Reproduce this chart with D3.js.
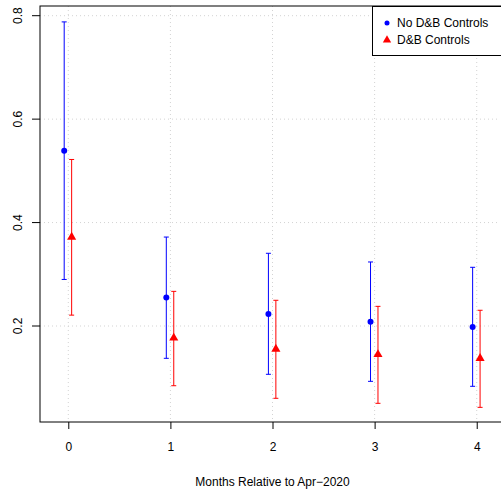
<!DOCTYPE html>
<html><head><meta charset="utf-8">
<script src="https://cdn.jsdelivr.net/npm/d3@7"></script>
<style>body{margin:0;background:#fff}svg{display:block;font-family:"Liberation Sans",Arial,sans-serif}</style>
</head><body><svg id="c" width="501" height="492"></svg>
<script>
const months = [0, 1, 2, 3, 4];
const xTicks = [0, 1, 2, 3, 4];
const yTicks = [0.2, 0.4, 0.6, 0.8];
const seriesNames = ["No D&B Controls", "D&B Controls"];
const noDBEst   = [0.539, 0.255, 0.223, 0.208, 0.198];
const noDBLow   = [0.290, 0.1375, 0.1066, 0.093, 0.0834];
const noDBHigh  = [0.788, 0.372, 0.3406, 0.3238, 0.3135];
const dbEst     = [0.372, 0.177, 0.1555, 0.145, 0.1375];
const dbLow     = [0.221, 0.0845, 0.0602, 0.0505, 0.0427];
const dbHigh    = [0.522, 0.267, 0.2497, 0.238, 0.2304];

const svg = d3.select("#c");
const L = 40, R = 500, T = 6, B = 422;
const x = d3.scaleLinear().domain([-0.277, 4.228]).range([L, R]);
const y = d3.scaleLinear().domain([0.2, 0.8]).range([326, 15.7]);

// grid
const g = svg.append("g");
g.selectAll(".gx").data(xTicks).enter().append("line")
  .attr("x1", d => x(d)).attr("x2", d => x(d)).attr("y1", T).attr("y2", B)
  .attr("stroke", "#d3d3d3").attr("stroke-dasharray", "1,3");
g.selectAll(".gy").data(yTicks).enter().append("line")
  .attr("x1", L).attr("x2", R).attr("y1", d => y(d)).attr("y2", d => y(d))
  .attr("stroke", "#d3d3d3").attr("stroke-dasharray", "1,3");

// box
svg.append("rect").attr("x", L).attr("y", T).attr("width", R - L + 5).attr("height", B - T)
  .attr("fill", "none").attr("stroke", "#000").attr("stroke-width", 1);

// axes
const xa = svg.append("g").attr("transform", `translate(0,${B})`)
  .call(d3.axisBottom(x).tickValues(xTicks).tickFormat(d3.format("d")).tickSize(7).tickPadding(13));
xa.select(".domain").remove();
const ya = svg.append("g").attr("transform", `translate(${L},0)`)
  .call(d3.axisLeft(y).tickValues(yTicks).tickFormat(d3.format(".1f")).tickSize(8).tickPadding(0));
ya.select(".domain").remove();
[xa, ya].forEach(a => a.selectAll("text").attr("font-size", 12).attr("fill", "#000")
  .attr("font-family", "Liberation Sans, Arial, sans-serif"));
ya.selectAll("text").attr("text-anchor", "middle").attr("x", 0).attr("dy", 0)
  .attr("transform", d => `translate(-22,${y(d)}) rotate(-90)`).attr("y", 4);
ya.selectAll(".tick").attr("transform", null);
ya.selectAll(".tick line").attr("y1", d => y(d)).attr("y2", d => y(d));

svg.append("text").attr("x", (x(0) + x(4)) / 2).attr("y", 486)
  .attr("text-anchor", "middle").attr("font-size", 12).text("Months Relative to Apr\u22122020");

// error bars
function drawSeries(est, lo, hi, off, color, shape) {
  const s = svg.append("g");
  months.forEach((m, i) => {
    const cx = x(m + off);
    s.append("line").attr("x1", cx).attr("x2", cx).attr("y1", y(lo[i])).attr("y2", y(hi[i])).attr("stroke", color);
    [lo[i], hi[i]].forEach(v => s.append("line").attr("x1", cx - 2.5).attr("x2", cx + 2.5)
      .attr("y1", y(v)).attr("y2", y(v)).attr("stroke", color));
    if (shape === "circle") {
      s.append("circle").attr("cx", cx).attr("cy", y(est[i])).attr("r", 3).attr("fill", color);
    } else {
      s.append("path").attr("transform", `translate(${cx},${y(est[i])})`)
        .attr("d", d3.symbol(d3.symbolTriangle, 36)()).attr("fill", color);
    }
  });
}
drawSeries(noDBEst, noDBLow, noDBHigh, -0.04, "blue", "circle");
drawSeries(dbEst, dbLow, dbHigh, 0.033, "red", "triangle");

// legend
const lg = svg.append("g");
lg.append("rect").attr("x", 372.5).attr("y", 6.5).attr("width", 130).attr("height", 49)
  .attr("fill", "#fff").attr("stroke", "#000");
lg.append("circle").attr("cx", 387).attr("cy", 23).attr("r", 2.5).attr("fill", "blue");
lg.append("path").attr("transform", "translate(387,40)").attr("d", d3.symbol(d3.symbolTriangle, 30)()).attr("fill", "red");
lg.selectAll(".lt").data(seriesNames).enter().append("text")
  .attr("x", 397).attr("y", (d, i) => 23 + i * 17).attr("dy", "0.35em")
  .attr("font-size", 12).text(d => d);
</script></body></html>
